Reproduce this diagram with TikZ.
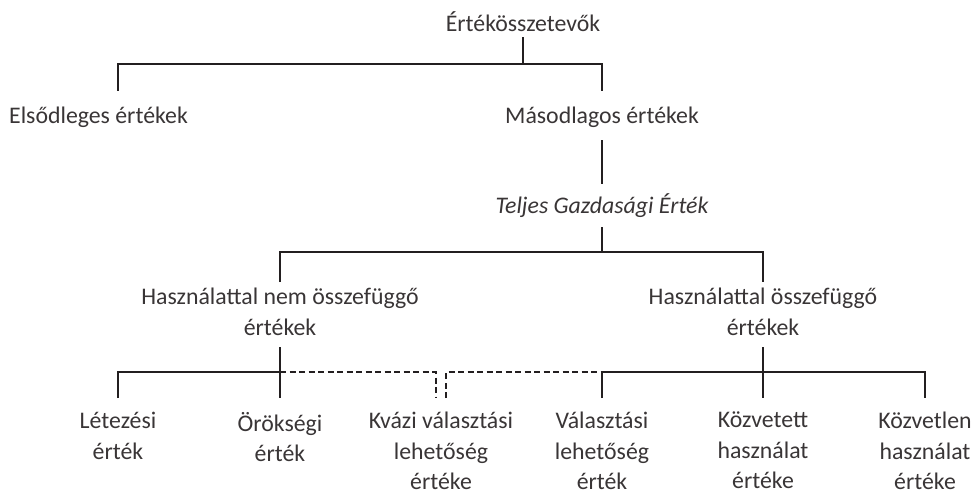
\documentclass[tikz,border=0pt]{standalone}
\usepackage{fontspec}
\setmainfont{Carlito}
\usetikzlibrary{positioning}
\definecolor{ink}{HTML}{231F20}

\begin{document}
\begin{tikzpicture}[x=1pt,y=-1pt,
  val/.style={font=\fontsize{23.8}{30.5}\selectfont, text=ink!90, align=center,
    inner xsep=0pt, inner ysep=#1,
    execute at begin node={\vrule width 0pt height 21pt depth 6pt}},
  val/.default=0pt,
  link/.style={draw=ink, line width=1.3pt},
  dashline/.style={draw=ink, line width=1.2pt, dash pattern=on 6pt off 3.5pt}]
  \useasboundingbox (0,0) rectangle (976,501);
  % Root
  \node[val, anchor=base] (root) at (523,31) {Értékösszetevők};
  \node[val=11pt, anchor=base] (elso) at (98.5,123) {Elsődleges értékek};
  \node[val=11pt, anchor=base] (maso) at (602,123) {Másodlagos értékek};
  \node[val=8pt, anchor=base] (tge) at (602,213) {\itshape Teljes Gazdasági Érték};
  % Second level
  \node[val=6pt, anchor=north] (nem) at (280,282) {Használattal nem összefüggő\\értékek};
  \node[val=6pt, anchor=north] (hasz) at (763,282) {Használattal összefüggő\\értékek};
  % Leaves
  \node[val=14pt, anchor=north] (let) at (118,398) {Létezési\\érték};
  \node[val=14pt, anchor=north] (oro) at (280,398) {Örökségi\\érték};
  \node[val=14pt, anchor=north] (kva) at (441,398) {Kvázi választási\\lehetőség\\értéke};
  \node[val=14pt, anchor=north] (vla) at (602,398) {Választási\\lehetőség\\érték};
  \node[val=14pt, anchor=north] (kzt) at (763,398) {Közvetett\\használat\\értéke};
  \node[val=14pt, anchor=north] (kzl) at (925,398) {Közvetlen\\használat\\értéke};
  % Bars
  \coordinate (bar1) at (523,64);
  \coordinate (bar2) at (602,252);
  \coordinate (bar3) at (602,372);
  % Connectors
  \draw[link] (root.south) -- (bar1);
  \draw[link] (let.north |- elso.north) |- (bar1) -| (maso.north);
  \draw[link] (maso.south) -- (tge.north);
  \draw[link] (tge.south) -- (bar2);
  \draw[link] (nem.north) |- (bar2) -| (hasz.north);
  \draw[link] (nem.south) -- (oro.north);
  \draw[link] (hasz.south) -- (kzt.north);
  \draw[link] (let.north) |- (oro.north |- bar3);
  \draw[dashline] (oro.north |- bar3) -| ([xshift=-5pt]kva.north);
  \draw[dashline] ([xshift=5pt]kva.north) |- (vla.north |- bar3);
  \draw[link] (vla.north) |- (kzl.north |- bar3) -- (kzl.north);
\end{tikzpicture}
\end{document}
